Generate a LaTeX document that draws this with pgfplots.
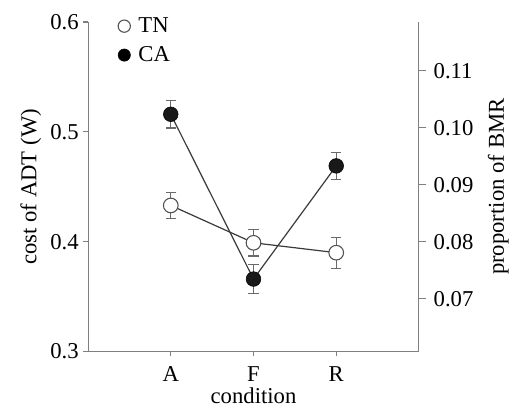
\documentclass[border=0pt]{standalone}
\usepackage{fontspec}
\setmainfont{Liberation Serif}
\usepackage{pgfplots}
\usepackage{pgfplotstable}
\pgfplotsset{compat=1.18}
\usetikzlibrary{calc}
\definecolor{axisgray}{HTML}{7F7F7F}
\definecolor{linegray}{HTML}{3A3A3A}
\definecolor{bargray}{HTML}{6A6A6A}
\definecolor{markgray}{HTML}{505050}

\pgfplotstableread{
x  tn     tnerr  ca     caerr
1  0.433  0.012  0.516  0.0125
2  0.399  0.012  0.366  0.0135
3  0.390  0.014  0.469  0.012
}\adt

\begin{document}
\begin{tikzpicture}[font=\fontsize{17}{20}\selectfont]
\pgfplotsset{
  common/.style={scale only axis, width=248pt, height=247pt,
    xmin=0, xmax=4,
    axis line style={axisgray, line width=0.8pt, -},
    tick align=outside, major tick length=3.5pt,
    tick style={axisgray, line width=0.8pt},
    /pgf/number format/assume math mode=true,
    tick label style={font=\fontsize{17}{20}\selectfont},
    label style={font=\fontsize{17}{20}\selectfont}},
  ebar/.style={draw=none, mark=none, forget plot,
    error bars/.cd, y dir=both, y explicit,
    error bar style={draw=bargray, line width=0.8pt, solid},
    error mark options={rotate=90, mark size=3.75pt, draw=bargray, line width=0.8pt}}
}
\begin{axis}[common, name=main,
  ymin=0.3, ymax=0.6,
  axis x line*=bottom, axis y line*=left,
  xtick={1,2,3}, xticklabels={A,F,R},
  ytick={0.3,0.4,0.5,0.6},
  yticklabel style={/pgf/number format/fixed, /pgf/number format/precision=1},
  xticklabel style={yshift=-4pt},
  xlabel={condition}, ylabel={cost of ADT (W)},
  xlabel shift={-2pt},
  legend style={at={(rel axis cs:0.078,1.03)}, anchor=north west,
    draw=none, fill=none, row sep=5pt,
    font=\fontsize{17}{20}\selectfont,
    /tikz/every odd column/.style={column sep=4pt}},
  legend cell align=left]
\addlegendimage{only marks, mark=*, mark size=4.6pt, mark options={draw=markgray, fill=white, line width=0.8pt}}
\addlegendentry{TN}
\addlegendimage{only marks, mark=*, mark size=4.6pt, mark options={draw=black, fill=black}}
\addlegendentry{CA}
% error bars first, behind everything
\addplot[ebar] table[x=x, y=tn, y error=tnerr] {\adt};
\addplot[ebar] table[x=x, y=ca, y error=caerr] {\adt};
% connecting lines
\addplot[linegray, line width=0.9pt, mark=none, forget plot] table[x=x, y=tn] {\adt};
\addplot[linegray, line width=0.9pt, mark=none, forget plot] table[x=x, y=ca] {\adt};
% markers on top
\addplot[only marks, mark=*, mark size=5.5pt, mark options={draw=markgray, fill=white, line width=0.8pt}, forget plot] table[x=x, y=tn] {\adt};
\addplot[only marks, mark=*, mark size=5.5pt, mark options={draw=black, fill=black!90}, forget plot] table[x=x, y=ca] {\adt};
\end{axis}
\begin{axis}[common,
  ymin=0.0607, ymax=0.1186,
  axis x line=none, axis y line*=right,
  major tick length=5.5pt,
  ytick={0.07,0.08,0.09,0.10,0.11},
  yticklabel style={xshift=2pt, /pgf/number format/fixed, /pgf/number format/fixed zerofill, /pgf/number format/precision=2},
  ylabel={proportion of BMR}, ylabel shift={4pt}]
\end{axis}
\pgfresetboundingbox
\path[use as bounding box] ($(main.south west)+(-66pt,-42pt)$) rectangle ($(main.north east)+(72.75pt,16.5pt)$);
\end{tikzpicture}
\end{document}
